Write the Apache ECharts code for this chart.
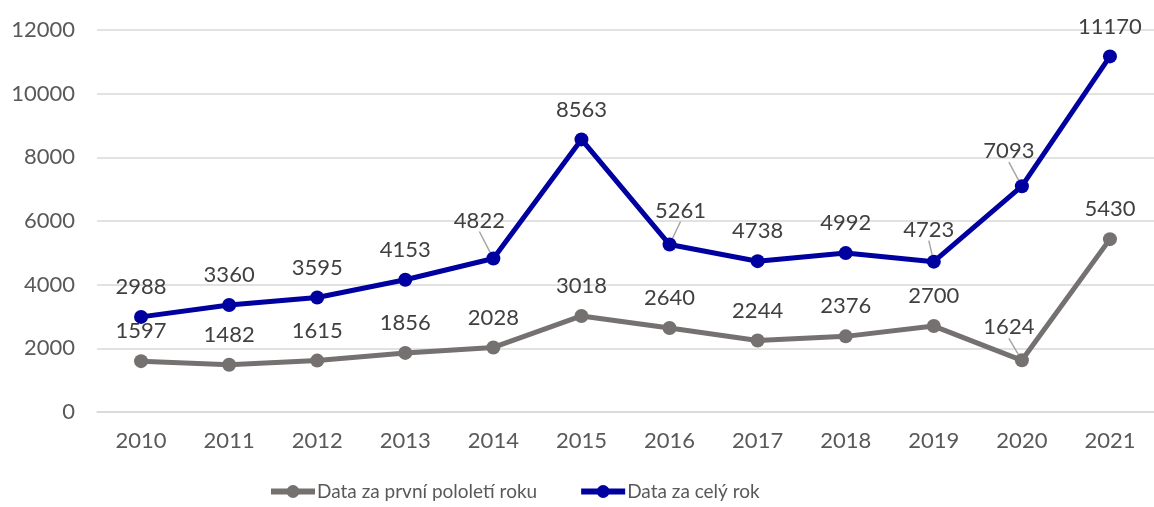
<!DOCTYPE html>
<html>
<head>
<meta charset="utf-8">
<script src="https://cdn.jsdelivr.net/npm/echarts@6/dist/echarts.min.js"></script>
<style>
html,body{margin:0;padding:0;background:#fff;}
#chart{width:1154px;height:507px;}
</style>
</head>
<body>
<div id="chart"></div>
<script>
const years = ['2010','2011','2012','2013','2014','2015','2016','2017','2018','2019','2020','2021'];
const halfYear = [1597,1482,1615,1856,2028,3018,2640,2244,2376,2700,1624,5430];
const fullYear = [2988,3360,3595,4153,4822,8563,5261,4738,4992,4723,7093,11170];
const seriesNames = ['Data za první pololetí roku','Data za celý rok'];

// label nudges (style only), keyed by series index then data index
const nudges = {
  0: {10: [-13, -3]},
  1: {4: [-14, -8], 6: [11, -4], 9: [-5, -2], 10: [-13, -5]}
};

const FONT = 'Lato';
const chart = echarts.init(document.getElementById('chart'));
function mkSeries(name, data, color, idx) {
  return {
    name: name,
    type: 'line',
    data: data.map(function (v, i) {
      return nudges[idx][i] ? {value: v, labelLine: {show: true}} : v;
    }),
    symbol: 'circle',
    symbolSize: 14,
    lineStyle: {color: color, width: 5},
    itemStyle: {color: color},
    label: {
      show: true,
      position: 'top',
      distance: 12,
      color: '#404040',
      fontFamily: FONT,
      fontSize: 22
    },
    labelLine: {show: false, lineStyle: {color: '#a6a6a6', width: 1.5}},
    labelLayout: function (p) {
      const n = nudges[idx][p.dataIndex];
      if (n) return {dx: n[0], dy: n[1]};
      return {};
    },
    z: idx + 2
  };
}
chart.setOption({
  animation: false,
  textStyle: {fontFamily: FONT},
  grid: {left: 97, top: 30, width: 1069, height: 382, containLabel: false},
  legend: {
    bottom: 1,
    left: 263,
    itemWidth: 44,
    itemHeight: 16,
    itemGap: 41,
    lineStyle: {width: 6},
    textStyle: {color: '#595959', fontFamily: FONT, fontSize: 19, padding: [0, 0, 0, -3]},
    data: seriesNames
  },
  xAxis: {
    type: 'category',
    data: years,
    boundaryGap: true,
    axisLine: {show: true, lineStyle: {color: '#d9d9d9', width: 1.5}},
    axisTick: {show: false},
    axisLabel: {color: '#595959', fontFamily: FONT, fontSize: 22, margin: 18}
  },
  yAxis: {
    type: 'value',
    min: 0,
    max: 12000,
    interval: 2000,
    axisLine: {show: false},
    axisTick: {show: false},
    splitLine: {lineStyle: {color: '#d9d9d9', width: 1.5}},
    axisLabel: {color: '#595959', fontFamily: FONT, fontSize: 22, margin: 22,
      formatter: function (v) { return String(v); }}
  },
  series: [
    mkSeries(seriesNames[0], halfYear, '#767171', 0),
    mkSeries(seriesNames[1], fullYear, '#0000A0', 1)
  ]
});
</script>
</body>
</html>
